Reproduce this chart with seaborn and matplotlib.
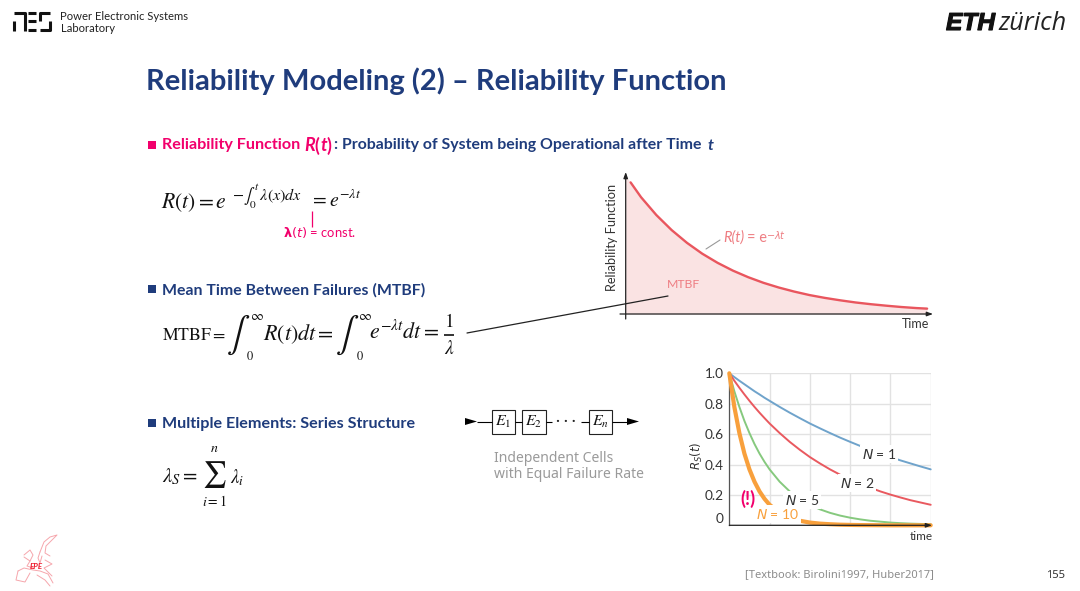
import numpy as np
import pandas as pd
import matplotlib
matplotlib.use("Agg")
import matplotlib.pyplot as plt
import matplotlib.patheffects as pe
import seaborn as sns

# ---------- data ----------
rel_time = [0, 0.16, 0.5, 1, 1.5, 2, 2.5, 3, 3.5, 4, 4.5, 5, 5.5, 6, 6.5, 7, 7.5, 8, 8.5, 9, 9.5, 9.84]
rel_value = [1.03, 0.980, 0.870, 0.737, 0.625, 0.530, 0.449, 0.381, 0.323, 0.274, 0.232, 0.197, 0.167, 0.141, 0.120, 0.102, 0.086, 0.073, 0.062, 0.052, 0.044, 0.040]

series_time = [0, 0.125, 0.25, 0.375, 0.5, 0.625, 0.75, 0.875, 1, 1.25, 1.5, 1.75, 2, 2.25, 2.5, 2.75, 3, 3.25, 3.5, 3.75, 4, 4.25, 4.5, 4.75, 5]
n1_values = [1, .975, .951, .928, .905, .882, .861, .839, .819, .779, .741, .705, .670, .638, .607, .577, .549, .522, .497, .472, .449, .427, .407, .387, .368]
n2_values = [1, .951, .905, .861, .819, .779, .741, .705, .670, .607, .549, .497, .449, .407, .368, .333, .301, .273, .247, .223, .202, .183, .165, .150, .135]
n5_values = [1, .882, .779, .687, .607, .535, .472, .417, .368, .287, .223, .174, .135, .105, .082, .064, .050, .039, .030, .024, .018, .014, .011, .009, .007]
n10_values = [1, .779, .607, .472, .368, .287, .223, .174, .135, .082, .050, .030, .018, .011, .007, .004, .0025, .0015, .001, .0005, 0, 0, 0, 0, 0]
n_labels = ["N = 1", "N = 2", "N = 5", "N = 10"]
y_ticks = [0, 0.2, 0.4, 0.6, 0.8, 1.0]
y_tick_labels = ["0", "0.2", "0.4", "0.6", "0.8", "1.0"]
x_grid = [0, 1, 2, 3, 4, 5]

# ---------- style ----------
sns.set_theme(style="white")
plt.rcParams["font.family"] = ["Lato", "DejaVu Sans"]
plt.rcParams["mathtext.fontset"] = "stix"

W, H = 1080, 591
BLUE = "#1f3c7c"
PINK = "#f2006c"
RED = "#e9565e"
TXT = "#333333"

fig = plt.figure(figsize=(W / 100, H / 100), dpi=100, facecolor="white")
slide = fig.add_axes([0, 0, 1, 1], zorder=0)
slide.set_xlim(0, W)
slide.set_ylim(H, 0)
slide.axis("off")
renderer = fig.canvas.get_renderer()
overlay = fig.add_axes([0, 0, 1, 1], zorder=10)
overlay.set_xlim(0, W)
overlay.set_ylim(H, 0)
overlay.axis("off")
overlay.patch.set_alpha(0)


def fit(x0, x1, y, s, ax=slide, va="center", **kw):
    """text placed at pixel position, sized to span x0..x1"""
    kw.setdefault("color", TXT)
    t = ax.text(x0, y, s, ha="left", va=va, fontsize=10, **kw)
    w = t.get_window_extent(renderer).width
    t.set_fontsize(10 * (x1 - x0) / w)
    return t


def put(x, y, s, size, ax=slide, ha="left", **kw):
    kw.setdefault("color", TXT)
    return ax.text(x, y, s, ha=ha, va="center", fontsize=size, **kw)


def bullet(y, color):
    slide.add_patch(plt.Rectangle((148, y - 4), 7.5, 7.5, color=color, lw=0))


def pl(xs, ys, ax=slide, color="black", lw=1.0, **kw):
    ax.plot(xs, ys, color=color, lw=lw, solid_capstyle="butt", **kw)


def arrow(ax, p0, p1, color="black", lw=0.9, ms=7):
    ax.annotate("", xy=p1, xytext=p0, xycoords="data", textcoords="data",
                arrowprops=dict(arrowstyle="-|>,head_length=0.5,head_width=0.18", color=color, lw=lw,
                                shrinkA=0, shrinkB=0, mutation_scale=ms))


# ---------- header ----------
for xs, ys in [([13.5, 25, 25], [12.5, 12.5, 31]), ([14, 14], [21, 31]),
               ([27.5, 36], [12.5, 12.5]), ([27.5, 36], [21, 21]), ([27.5, 36], [30, 30]),
               ([50, 39.5, 39.5], [12.5, 12.5, 21]), ([39.5, 50, 50], [30, 30, 21])]:
    pl(xs, ys, lw=2.2, color="#111111")
fit(60.5, 188, 16, "Power Electronic Systems", color="#222222")
fit(60.5, 115, 28, "Laboratory", color="#222222")
eth = fit(946, 995, 23, "ETH", color="#111111", family="Liberation Sans", weight="bold", style="italic")
eth.set_path_effects([pe.withStroke(linewidth=0.8, foreground="#111111")])
fit(998, 1066, 23, "zürich", color="#222222", family="Open Sans", style="italic")
fit(146, 727, 81, "Reliability Modeling (2) – Reliability Function", color=BLUE, weight="bold")

# ---------- headings ----------
bullet(145, PINK)
HS = 11.6
HY = 145.5
put(162, HY, "Reliability Function", HS, color=PINK, weight="bold")
put(304, HY, "R", 13, color=PINK, weight="bold", style="italic")
put(314.5, HY, "(", 13, color=PINK, weight="bold")
put(320, HY, "t", 13, color=PINK, weight="bold", style="italic")
put(326.5, HY, ")", 13, color=PINK, weight="bold")
fit(334.5, 704, HY, ": Probability of System being Operational after Time", color=BLUE, weight="bold")
put(708, HY, "t", HS, color=BLUE, weight="bold", style="italic")
bullet(289, BLUE)
fit(162, 426, 290, "Mean Time Between Failures (MTBF)", color=BLUE, weight="bold")
bullet(423, BLUE)
fit(162, 416, 424, "Multiple Elements: Series Structure", color=BLUE, weight="bold")

# ---------- equations ----------
EQ = "#111111"
fit(161, 228, 203, r"$R(t)=e$", color=EQ)
fit(232, 303, 197, r"$-\int_0^t\,\lambda(x)dx$", color=EQ)
fit(310, 362, 198, r"$=e^{-\lambda t}$", color=EQ)
pl([312, 312], [211, 227], color=PINK, lw=0.9)
fit(283, 356, 232.5, r"$\mathbf{\lambda}(\mathit{t})$ = const.", color=PINK, math_fontfamily="dejavusans")

fit(161.5, 226, 335, r"$\mathrm{MTBF}=$", color=EQ)
put(238, 335, r"$\int$", 25, ha="center", color=EQ)
put(249.5, 316, r"$\infty$", 10, color=EQ)
put(246.5, 356, r"$0$", 9, color=EQ)
fit(263, 335, 334, r"$R(t)dt=$", color=EQ)
put(347, 335, r"$\int$", 25, ha="center", color=EQ)
put(358.5, 316, r"$\infty$", 10, color=EQ)
put(355.5, 356, r"$0$", 9, color=EQ)
fit(369, 440, 331, r"$e^{-\lambda t}dt=$", color=EQ)
put(449, 321, r"$1$", 14, ha="center", color=EQ)
pl([444, 454], [335, 335], color=EQ, lw=1.2)
put(449, 348, r"$\lambda$", 14, ha="center", color=EQ)

fit(162, 199, 477, r"$\lambda_S=$", color=EQ)
put(214, 475, r"$\sum$", 19, ha="center", color=EQ)
put(214, 448, r"$n$", 10, ha="center", color=EQ)
put(214, 500, r"$i=1$", 10, ha="center", color=EQ)
fit(230, 245, 478, r"$\lambda_i$", color=EQ)

# ---------- series structure diagram ----------
slide.fill([465, 477, 465], [418, 421.5, 425], color="black", lw=0)
pl([477, 492], [421.5, 421.5], lw=0.8)
for x0, x1, lab in [(492, 515, r"$E_1$"), (522, 546, r"$E_2$"), (589, 612, r"$E_n$")]:
    slide.add_patch(plt.Rectangle((x0, 410), x1 - x0, 24, fc="white", ec="#222222", lw=0.8))
    slide.text((x0 + x1) / 2, 422, lab, fontsize=11.5, ha="center", va="center", color=EQ)
pl([515, 522], [421.5, 421.5], lw=0.8)
pl([546, 552], [421.5, 421.5], lw=0.8)
pl([581, 589], [421.5, 421.5], lw=0.8)
pl([612, 627], [421.5, 421.5], lw=0.8)
slide.fill([627, 639, 627], [418, 421.5, 425], color="black", lw=0)
slide.text(565.5, 421, "· · ·", fontsize=11, ha="center", va="center", color="#222222")
GREY = "#9a9a9a"
fit(494, 613, 459, "Independent Cells", color=GREY, family="Noto Sans")
fit(494, 644, 474, "with Equal Failure Rate", color=GREY, family="Noto Sans")

# ---------- footer ----------
fit(745, 933, 575, "[Textbook: Birolini1997, Huber2017]", color="#8c8c8c", family="Noto Sans")
fit(1046, 1065, 576, "155", color="#333333", family="Noto Sans")

# EPE map logo
LOGO = "#f6a6ac"
for pts in [
    [(40, 552), (44, 542), (50, 537), (57, 535), (52, 540), (46, 546), (45, 553), (50, 556)],
    [(40, 552), (38, 558), (40, 563), (42, 556)],
    [(24, 555), (30, 550), (33, 555), (30, 561), (24, 557)],
    [(30, 561), (27, 566), (33, 568)],
    [(18, 571), (24, 568), (33, 570), (40, 571), (48, 574), (53, 583)],
    [(18, 571), (16, 580), (25, 582), (30, 573)],
    [(37, 575), (45, 580), (50, 586)],
    [(45, 560), (52, 564), (44, 568), (52, 576)],
]:
    xs, ys = zip(*pts)
    slide.plot(xs, ys, color=LOGO, lw=0.7)
fit(30, 43, 566.5, "EPE", color="#ee1c2e", weight="bold", style="italic")

# ---------- upper chart: reliability function ----------
def axes_px(left, right, top, bottom):
    return fig.add_axes([left / W, 1 - bottom / H, (right - left) / W, (bottom - top) / H], zorder=2)


ax1 = axes_px(625.7, 932, 173, 314)
ax1.patch.set_alpha(0)
ax1.fill_between(rel_time, 0, rel_value, color="#fae3e3", lw=0)
rel_df = pd.DataFrame({"t": rel_time[1:], "R": rel_value[1:]})
sns.lineplot(data=rel_df, x="t", y="R", ax=ax1, color=RED, lw=1.7, legend=False)
ax1.set_xlim(0, 10)
ax1.set_ylim(0, 1.05)
ax1.set_xticks([])
ax1.set_yticks([])
ax1.set_xlabel("")
ax1.set_ylabel("")
for s in ax1.spines.values():
    s.set_visible(False)

arrow(overlay, (620, 314), (933, 314), color="#222222")
arrow(overlay, (625.7, 319), (625.7, 172), color="#222222")
t = slide.text(612, 237, "Reliability Function", rotation=90, ha="center", va="center", fontsize=10, color=TXT)
t.set_fontsize(10 * 107 / t.get_window_extent(renderer).height)
put(929, 324.5, "Time", 9, ha="right", color=TXT)
put(667, 284, "MTBF", 8.8, ax=overlay, color="#ee7d82")
overlay.plot([706, 720], [249, 240], color="#999999", lw=0.8)
LAB = "#ee7d82"
put(723, 238, "R(t)", 10.5, ax=overlay, color=LAB, style="italic")
put(747, 238, "= e", 10.5, ax=overlay, color=LAB)
put(766, 235, r"$-\lambda t$", 7, ax=overlay, color=LAB, math_fontfamily="dejavusans")
overlay.plot([467, 668], [333, 296], color="#222222", lw=0.9)

# ---------- lower chart: series structures ----------
ax2 = axes_px(729.3, 930.7, 373.3, 525.3)
long_df = pd.DataFrame({
    "t": series_time * 4,
    "R": n1_values + n2_values + n5_values + n10_values,
    "N": sum([[n] * len(series_time) for n in n_labels], []),
})
sns.lineplot(data=long_df, x="t", y="R", hue="N", size="N", ax=ax2,
             palette=["#6fa3cb", "#e9595f", "#86c97e", "#f8a03c"],
             sizes=[1.4, 1.4, 1.4, 3.0], legend=False, clip_on=False, zorder=3)
ax2.set_xlim(0, 5)
ax2.set_ylim(0, 1)
ax2.set_xticks(x_grid)
ax2.set_xticklabels([])
ax2.set_yticks(y_ticks)
ax2.set_yticklabels(y_tick_labels, fontsize=9.8, color=TXT)
ax2.tick_params(length=0, pad=4)
ax2.yaxis.get_ticklabels()[0].set_verticalalignment("bottom")
ax2.grid(True, color="#e2e2e2", lw=1)
ax2.set_axisbelow(True)
ax2.set_xlabel("")
ax2.set_ylabel("")
for side in ["top", "right", "bottom"]:
    ax2.spines[side].set_visible(False)
ax2.spines["left"].set_color("#555555")
ax2.spines["left"].set_linewidth(0.9)
arrow(overlay, (729.3, 525.3), (932, 525.3), color="#222222")

lab_box = dict(fc="white", ec="none", pad=1.2)
overlay.text(879, 454, r"$N$ = 1", ha="center", va="center", fontsize=10, color=TXT, bbox=lab_box, math_fontfamily="dejavusans")
overlay.text(857, 483, r"$N$ = 2", ha="center", va="center", fontsize=10, color=TXT, bbox=lab_box, math_fontfamily="dejavusans")
overlay.text(802, 500, r"$N$ = 5", ha="center", va="center", fontsize=10, color=TXT, bbox=lab_box, math_fontfamily="dejavusans")
overlay.text(778, 514, r"$N$ = 10", ha="center", va="center", fontsize=10, color="#f8a03c", bbox=lab_box, math_fontfamily="dejavusans")
fit(740, 755, 499, "(!)", ax=overlay, color=PINK, weight="bold")
overlay.text(697, 456, r"$R_S(t)$", rotation=90, ha="center", va="center", fontsize=8.5, color=TXT, math_fontfamily="dejavusans")
fit(910, 933, 536, "time", ax=overlay, color=TXT)

fig.savefig("out.png", dpi=100, facecolor="white")
